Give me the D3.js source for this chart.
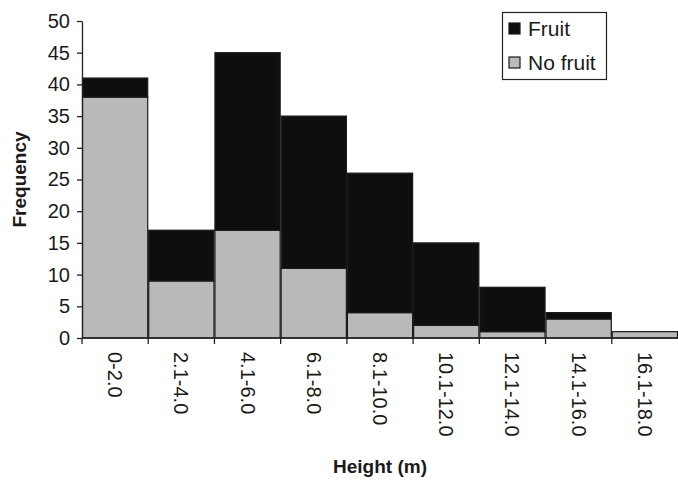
<!DOCTYPE html>
<html>
<head>
<meta charset="utf-8">
<script src="https://cdn.jsdelivr.net/npm/d3@7"></script>
<style>
  html, body { margin: 0; padding: 0; background: #fff; }
  svg { display: block; font-family: "Liberation Sans", Arial, sans-serif; }
</style>
</head>
<body>
<svg id="chart" width="678" height="480"></svg>
<script>
// Height classes of the trees (m)
const heightClasses = ["0-2.0", "2.1-4.0", "4.1-6.0", "6.1-8.0", "8.1-10.0",
                       "10.1-12.0", "12.1-14.0", "14.1-16.0", "16.1-18.0"];
// Number of trees without fruit in each class
const noFruitCounts = [38, 9, 17, 11, 4, 2, 1, 3, 1];
// Number of trees bearing fruit in each class
const fruitCounts   = [3, 8, 28, 24, 22, 13, 7, 1, 0];
// Frequency axis ticks
const yTicks = [0, 5, 10, 15, 20, 25, 30, 35, 40, 45, 50];

const seriesNames = { fruit: "Fruit", noFruit: "No fruit" };
const colors = { fruit: "#0e0e0e", noFruit: "#b9b9b9" };

const svg = d3.select("#chart");
const margin = { left: 82, right: 0, top: 21, bottom: 142 };
const W = 678, H = 480;

const x = d3.scaleBand()
  .domain(heightClasses)
  .range([margin.left, W - margin.right])
  .paddingInner(0).paddingOuter(0);

const y = d3.scaleLinear()
  .domain([0, 50])
  .range([H - margin.bottom, margin.top]);

const rows = heightClasses.map((c, i) => ({ cls: c, noFruit: noFruitCounts[i], fruit: fruitCounts[i] }));
const stacked = d3.stack().keys(["noFruit", "fruit"])(rows);

// Stacked bars: trees without fruit at the base, fruiting trees on top
svg.append("g").selectAll("g")
  .data(stacked)
  .join("g")
    .attr("fill", d => colors[d.key])
  .selectAll("rect")
  .data(d => d.filter(p => p[1] > p[0]))
  .join("rect")
    .attr("x", d => x(d.data.cls) + 0.5)
    .attr("width", x.bandwidth() - 1)
    .attr("y", d => y(d[1]))
    .attr("height", d => y(d[0]) - y(d[1]))
    .attr("stroke", "#1a1a1a")
    .attr("stroke-width", 1.2);

// Y axis
const yAxis = svg.append("g")
  .attr("transform", `translate(${margin.left},0)`)
  .call(d3.axisLeft(y).tickValues(yTicks).tickSize(5).tickPadding(7).tickSizeOuter(0));
yAxis.select(".domain").attr("stroke", "#222").attr("stroke-width", 1.3);
yAxis.selectAll(".tick line").attr("stroke", "#222").attr("stroke-width", 1.3);
yAxis.selectAll(".tick text")
  .attr("font-size", 20).attr("fill", "#1a1a1a")
  .attr("font-family", "Liberation Sans, Arial, sans-serif");

// X axis: ticks at class boundaries, labels rotated downwards
const xg = svg.append("g").attr("transform", `translate(0,${y(0)})`);
xg.append("line")
  .attr("x1", margin.left).attr("x2", W - margin.right)
  .attr("stroke", "#222").attr("stroke-width", 1.3);
const bounds = heightClasses.map(c => x(c)).slice(1);
xg.selectAll("line.tk")
  .data(bounds)
  .join("line").attr("class", "tk")
  .attr("x1", d => d).attr("x2", d => d)
  .attr("y1", 0).attr("y2", 6)
  .attr("stroke", "#222").attr("stroke-width", 1.3);
xg.append("line")
  .attr("x1", margin.left).attr("x2", margin.left)
  .attr("y1", 0).attr("y2", 6)
  .attr("stroke", "#222").attr("stroke-width", 1.3);
xg.selectAll("text.lbl")
  .data(heightClasses)
  .join("text").attr("class", "lbl")
  .attr("transform", d => `translate(${x(d) + x.bandwidth() / 2},14) rotate(90)`)
  .attr("dy", "0.35em")
  .attr("text-anchor", "start")
  .attr("font-size", 20)
  .attr("fill", "#1a1a1a")
  .text(d => d);

// Axis titles
svg.append("text")
  .attr("x", (margin.left + W - margin.right) / 2)
  .attr("y", 473)
  .attr("text-anchor", "middle")
  .attr("font-size", 19).attr("font-weight", "bold").attr("fill", "#1a1a1a")
  .text("Height (m)");

svg.append("text")
  .attr("transform", `translate(26,${(y(0) + y(50)) / 2}) rotate(-90)`)
  .attr("text-anchor", "middle")
  .attr("font-size", 19).attr("font-weight", "bold").attr("fill", "#1a1a1a")
  .text("Frequency");

// Legend
const legend = svg.append("g");
legend.append("rect")
  .attr("x", 502.5).attr("y", 12.5).attr("width", 104).attr("height", 67)
  .attr("fill", "#fff").attr("stroke", "#222").attr("stroke-width", 1.2);
const legendKeys = ["fruit", "noFruit"];
const li = legend.selectAll("g.item")
  .data(legendKeys)
  .join("g").attr("class", "item")
  .attr("transform", (d, i) => `translate(509,${23 + i * 34})`);
li.append("rect")
  .attr("width", 11).attr("height", 11)
  .attr("fill", d => colors[d]).attr("stroke", "#1a1a1a").attr("stroke-width", 1.2);
li.append("text")
  .attr("x", 19).attr("y", 5.5).attr("dy", "0.35em")
  .attr("font-size", 21).attr("fill", "#1a1a1a")
  .text(d => seriesNames[d]);
</script>
</body>
</html>
